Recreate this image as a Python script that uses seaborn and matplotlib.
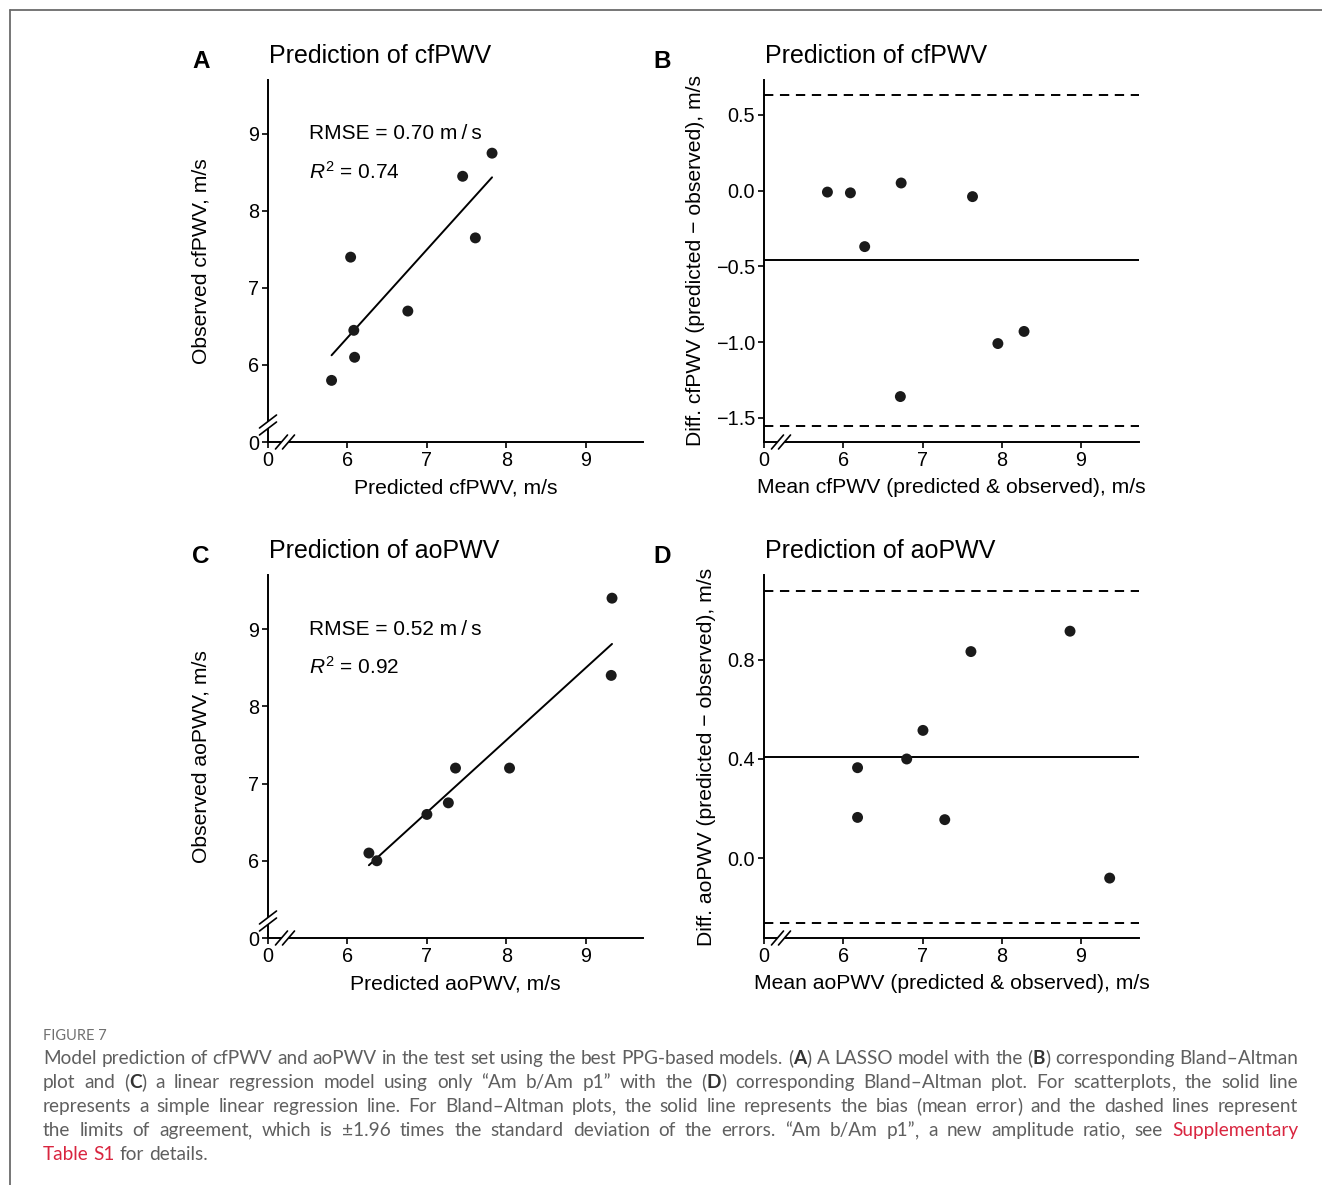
import re

import numpy as np
import pandas as pd
import matplotlib
matplotlib.use("Agg")
import matplotlib.pyplot as plt
from matplotlib.lines import Line2D
from matplotlib.patches import Polygon
import seaborn as sns

# ---- data ----
# A: LASSO model, cfPWV (m/s)
cf_predicted = [5.80, 6.04, 6.08, 6.09, 6.76, 7.45, 7.61, 7.82]
cf_observed = [5.80, 7.40, 6.45, 6.10, 6.70, 8.45, 7.65, 8.75]
cf_rmse = "0.70"
cf_r2 = "0.74"

# B: Bland-Altman for cfPWV
cf_ba_mean = [5.80, 6.09, 6.27, 6.73, 7.63, 6.72, 7.95, 8.28]
cf_ba_diff = [-0.01, -0.015, -0.37, 0.05, -0.04, -1.36, -1.01, -0.93]

# C: linear regression on "Am b/Am p1", aoPWV (m/s)
ao_predicted = [6.27, 6.37, 7.00, 7.27, 7.36, 8.04, 9.32, 9.33]
ao_observed = [6.10, 6.00, 6.60, 6.75, 7.20, 7.20, 8.40, 9.40]
ao_rmse = "0.52"
ao_r2 = "0.92"

# D: Bland-Altman for aoPWV
ao_ba_mean = [6.18, 6.18, 6.80, 7.005, 7.28, 7.61, 8.86, 9.36]
ao_ba_diff = [0.365, 0.165, 0.40, 0.515, 0.156, 0.832, 0.914, -0.079]

pwv_ticks = [6, 7, 8, 9]
cf_diff_ticks = [-1.5, -1.0, -0.5, 0.0, 0.5]
ao_diff_ticks = [0.0, 0.4, 0.8]

caption_title = "FIGURE 7"
caption_lines = [
    "Model prediction of cfPWV and aoPWV in the test set using the best PPG-based models. (A) A LASSO model with the (B) corresponding Bland\u2013Altman",
    "plot and (C) a linear regression model using only \u201cAm b/Am p1\u201d with the (D) corresponding Bland\u2013Altman plot. For scatterplots, the solid line",
    "represents a simple linear regression line. For Bland\u2013Altman plots, the solid line represents the bias (mean error) and the dashed lines represent",
    "the limits of agreement, which is \u00b11.96 times the standard deviation of the errors. \u201cAm b/Am p1\u201d, a new amplitude ratio, see Supplementary",
    "Table S1 for details.",
]
red_words = {"Supplementary", "Table", "S1"}

# ---- style ----
sns.set_style("ticks")
plt.rcParams["font.family"] = ["Liberation Sans", "DejaVu Sans"]
plt.rcParams["text.color"] = "black"
plt.rcParams["axes.labelcolor"] = "black"
plt.rcParams["mathtext.fontset"] = "custom"
plt.rcParams["mathtext.rm"] = "Liberation Sans"
plt.rcParams["mathtext.it"] = "Liberation Sans:italic"

W, H = 1322, 1185
BREAK = 5  # axis position that carries the "0" label after the break
POINT = "#1a1a1a"
GREY = "#5f5f5f"
RED = "#d9253f"
LABEL_SIZE = 15.2
TICK_SIZE = 14.3

fig = plt.figure(figsize=(W / 100, H / 100), dpi=100)


def px_axes(x0, y_top, x1, y_bot):
    return fig.add_axes([x0 / W, 1 - y_bot / H, (x1 - x0) / W, (y_bot - y_top) / H])


def style_axis(ax):
    sns.despine(ax=ax)
    for s in ["left", "bottom"]:
        ax.spines[s].set_linewidth(1.4)
        ax.spines[s].set_color("black")
    ax.tick_params(direction="out", length=4, width=1.2, color="black",
                   labelsize=TICK_SIZE, pad=2.5, labelcolor="black")


def x_break(ax):
    # "//" across the x axis just right of the origin
    w = ax.bbox.width
    h = ax.bbox.height
    xc, hx, hy, g = 17 / w, 6 / w, 7 / h, 3.5 / w
    poly = Polygon([(xc - g - hx, -hy), (xc - g + hx, hy), (xc + g + hx, hy), (xc + g - hx, -hy)],
                   closed=True, transform=ax.transAxes, facecolor="white", edgecolor="none",
                   clip_on=False, zorder=6)
    ax.add_patch(poly)
    for off in (-g, g):
        ax.add_line(Line2D([xc + off - hx, xc + off + hx], [-hy, hy], transform=ax.transAxes,
                           color="black", lw=1.2, clip_on=False, zorder=7))


def y_break(ax):
    w = ax.bbox.width
    h = ax.bbox.height
    yc, hx, hy, g = 17 / h, 8.5 / w, 6.5 / h, 3.5 / h
    poly = Polygon([(-hx, yc - g - hy), (hx, yc - g + hy), (hx, yc + g + hy), (-hx, yc + g - hy)],
                   closed=True, transform=ax.transAxes, facecolor="white", edgecolor="none",
                   clip_on=False, zorder=6)
    ax.add_patch(poly)
    for off in (-g, g):
        ax.add_line(Line2D([-hx, hx], [yc + off - hy, yc + off + hy], transform=ax.transAxes,
                           color="black", lw=1.2, clip_on=False, zorder=7))


def pwv_ticks_on(axis_setter, lim_setter, upper):
    axis_setter([BREAK] + pwv_ticks, ["0"] + [str(t) for t in pwv_ticks])
    lim_setter(BREAK, upper)


def scatter_panel(ax, pred, obs, name, rmse, r2):
    df = pd.DataFrame({"pred": pred, "obs": obs})
    sns.regplot(data=df, x="pred", y="obs", scatter=False, ci=None, ax=ax,
                color="black", line_kws={"lw": 1.4})
    sns.scatterplot(data=df, x="pred", y="obs", ax=ax, color=POINT, s=62,
                    edgecolor="none", zorder=4)
    pwv_ticks_on(ax.set_xticks, ax.set_xlim, 9.72)
    pwv_ticks_on(ax.set_yticks, ax.set_ylim, 9.70)
    style_axis(ax)
    ax.set_xlabel("Predicted %s, m/s" % name, fontsize=LABEL_SIZE, labelpad=6)
    ax.set_ylabel("Observed %s, m/s" % name, fontsize=LABEL_SIZE, labelpad=27)
    ax.text(5.52, 9.0, "RMSE = %s m\u2009/\u2009s" % rmse, fontsize=15, va="center")
    ax.text(5.52, 8.51, r"$R^2$ = %s" % r2, fontsize=15, va="center")
    x_break(ax)
    y_break(ax)


def ba_panel(ax, means, diffs, name, ylim, yticks):
    df = pd.DataFrame({"mean": means, "diff": diffs})
    bias = np.mean(diffs)
    sd = np.std(diffs, ddof=1)
    ax.axhline(bias, color="black", lw=1.4)
    for loa in (bias - 1.96 * sd, bias + 1.96 * sd):
        ax.axhline(loa, color="black", lw=1.4, dashes=(4.8, 3.4))
    sns.scatterplot(data=df, x="mean", y="diff", ax=ax, color=POINT, s=62,
                    edgecolor="none", zorder=4)
    pwv_ticks_on(ax.set_xticks, ax.set_xlim, 9.73)
    ax.set_ylim(*ylim)
    ax.set_yticks(yticks, ["%.1f" % v if v >= 0 else ("\u2212%.1f" % -v) for v in yticks])
    style_axis(ax)
    ax.set_xlabel("Mean %s (predicted & observed), m/s" % name, fontsize=LABEL_SIZE, labelpad=6)
    ax.set_ylabel("Diff. %s (predicted \u2212 observed), m/s" % name, fontsize=LABEL_SIZE, labelpad=8)
    x_break(ax)


axA = px_axes(268, 80, 643, 442)
axB = px_axes(764, 80, 1139, 442)
axC = px_axes(268, 575, 643, 938)
axD = px_axes(764, 575, 1139, 938)

scatter_panel(axA, cf_predicted, cf_observed, "cfPWV", cf_rmse, cf_r2)
ba_panel(axB, cf_ba_mean, cf_ba_diff, "cfPWV", (-1.66, 0.73), cf_diff_ticks)
scatter_panel(axC, ao_predicted, ao_observed, "aoPWV", ao_rmse, ao_r2)
ba_panel(axD, ao_ba_mean, ao_ba_diff, "aoPWV", (-0.32, 1.14), ao_diff_ticks)

# panel letters and titles
for letter, title, lx, tx, base in [("A", "Prediction of cfPWV", 192, 269, 63),
                                    ("B", "Prediction of cfPWV", 653, 765, 63),
                                    ("C", "Prediction of aoPWV", 192, 269, 558),
                                    ("D", "Prediction of aoPWV", 653, 765, 558)]:
    fig.text(lx / W, 1 - (base + 5) / H, letter, fontsize=17.5, fontweight="bold", va="baseline")
    fig.text(tx / W, 1 - base / H, title, fontsize=18, va="baseline")

# frame lines of the figure box
fig.add_artist(Line2D([9.5 / W, 1], [1 - 9.5 / H] * 2, color="#6b6b6b", lw=1.3))
fig.add_artist(Line2D([9.5 / W] * 2, [0, 1 - 9.5 / H], color="#6b6b6b", lw=1.3))

# ---- caption, justified like the journal layout ----
cap_font = ["Lato", "DejaVu Sans"]
cap_size = 13.7
renderer = fig.canvas.get_renderer()

fig.text(43 / W, 1 - 1040 / H, caption_title, fontsize=10.5, color="#707070",
         family=cap_font, va="baseline")


def word_parts(word):
    # punctuation goes in its own piece so that words keep a common baseline
    m = re.match(r"^\(([A-D])\)(.*)$", word)
    if m:
        parts = [("(", "normal", GREY), (m.group(1), "bold", "#333333"), (")", "normal", GREY)]
        if m.group(2):
            parts.append((m.group(2), "normal", GREY))
        return parts
    color = RED if word.strip(".,") in red_words else GREY
    return [(p, "normal", color) for p in re.split(r"([(),])", word) if p]


def text_width(t):
    return t.get_window_extent(renderer).width


probe_a = fig.text(0, 0, "aa", fontsize=cap_size, family=cap_font)
probe_b = fig.text(0, 0, "a a", fontsize=cap_size, family=cap_font)
space_w = text_width(probe_b) - text_width(probe_a)
probe_a.remove()
probe_b.remove()

left_px, right_px = 43, 1298
for i, line in enumerate(caption_lines):
    base = 1064 + 24 * i
    words = []
    for w in line.split(" "):
        arts = []
        for s, weight, color in word_parts(w):
            arts.append(fig.text(0, 1 - base / H, s, fontsize=cap_size, family=cap_font,
                                 fontweight=weight, color=color, va="baseline"))
        words.append(arts)
    widths = [[text_width(a) for a in arts] for arts in words]
    total = sum(sum(ws) for ws in widths)
    last = i == len(caption_lines) - 1
    gap = space_w if last else (right_px - left_px - total) / (len(words) - 1)
    x = left_px
    for arts, ws in zip(words, widths):
        for a, wpx in zip(arts, ws):
            a.set_x(x / W)
            x += wpx
        x += gap

fig.savefig("out.png", dpi=100, facecolor="white")
